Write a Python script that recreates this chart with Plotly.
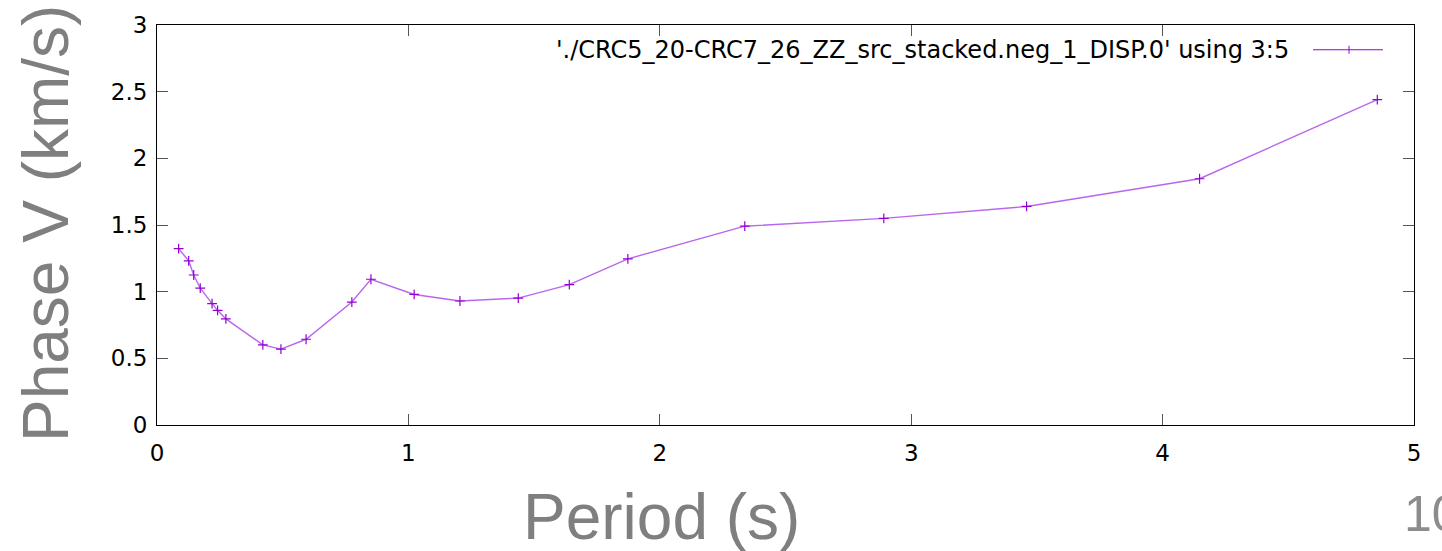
import plotly.graph_objects as go

# Data
period_s = [0.086, 0.126, 0.146, 0.172, 0.219, 0.241, 0.274, 0.421, 0.493, 0.593,
            0.775, 0.851, 1.023, 1.205, 1.437, 1.640, 1.873, 2.338, 2.891, 3.459,
            4.147, 4.854]
phase_v = [1.323, 1.231, 1.125, 1.026, 0.910, 0.860, 0.796, 0.601, 0.569, 0.643,
           0.922, 1.093, 0.979, 0.930, 0.952, 1.053, 1.246, 1.491, 1.550, 1.639,
           1.847, 2.441]
x_ticks = [0, 1, 2, 3, 4, 5]
y_ticks = [0, 0.5, 1, 1.5, 2, 2.5, 3]
series_label = "'./CRC5_20-CRC7_26_ZZ_src_stacked.neg_1_DISP.0' using 3:5"

LINE_COLOR = "#b966ee"
MARKER_COLOR = "#9400D3"
TICK_FONT = dict(family="DejaVu Sans", size=23, color="#000000")

fig = go.Figure()
fig.add_trace(go.Scatter(
    x=period_s, y=phase_v, mode="lines",
    line=dict(color=LINE_COLOR, width=1.4),
    showlegend=False,
))
fig.add_trace(go.Scatter(
    x=period_s, y=phase_v, mode="markers",
    marker=dict(symbol="cross-thin", size=7, line=dict(color=MARKER_COLOR, width=1.2)),
    showlegend=False,
))

axis_common = dict(
    showgrid=False, zeroline=False, showline=True, linecolor="#000000", linewidth=1,
    mirror="allticks", ticks="inside", ticklen=11, tickcolor="#555555", tickwidth=1,
    tickfont=TICK_FONT,
)
fig.update_xaxes(range=[0, 5], tickvals=x_ticks, ticktext=[str(v) for v in x_ticks],
                 ticklabelstandoff=7, **axis_common)
fig.update_yaxes(range=[0, 3], tickvals=y_ticks, ticktext=[f"{v:g}" for v in y_ticks],
                 ticklabelstandoff=4, **axis_common)

L, R, T, B = 157, 28, 21, 126
W, H = 1442, 551
pw, ph = W - L - R, H - T - B

def px(xp):
    return (xp - L) / pw

def py(yp):
    return (H - B - yp) / ph

annotations = [
    dict(text="Phase V (km/s)", x=px(46), y=py(222), xref="paper", yref="paper",
         textangle=-90, showarrow=False, xanchor="center", yanchor="middle",
         font=dict(family="Liberation Sans", size=64, color="#7f7f7f")),
    dict(text="Period (s)", x=px(661), y=py(518), xref="paper", yref="paper",
         showarrow=False, xanchor="center", yanchor="middle",
         font=dict(family="Liberation Sans", size=64, color="#7f7f7f")),
    dict(text="10", x=px(1402), y=py(515), xref="paper", yref="paper",
         showarrow=False, xanchor="left", yanchor="middle",
         font=dict(family="Liberation Sans", size=50, color="#8c8c8c")),
    dict(text=series_label, x=px(1291), y=py(46), xref="paper", yref="paper",
         showarrow=False, xanchor="right", yanchor="middle",
         font=dict(family="DejaVu Sans", size=24, color="#000000")),
]

shapes = [
    dict(type="line", xref="paper", yref="paper", x0=px(1313), x1=px(1383),
         y0=py(46), y1=py(46), line=dict(color=MARKER_COLOR, width=1)),
    dict(type="line", xref="paper", yref="paper", x0=px(1349), x1=px(1349),
         y0=py(42), y1=py(50), line=dict(color=MARKER_COLOR, width=1)),
]

fig.update_layout(
    width=W, height=H,
    margin=dict(l=L, r=R, t=T, b=B, pad=0),
    paper_bgcolor="white", plot_bgcolor="white",
    annotations=annotations, shapes=shapes,
    showlegend=False,
)

fig.write_html("out.html")
